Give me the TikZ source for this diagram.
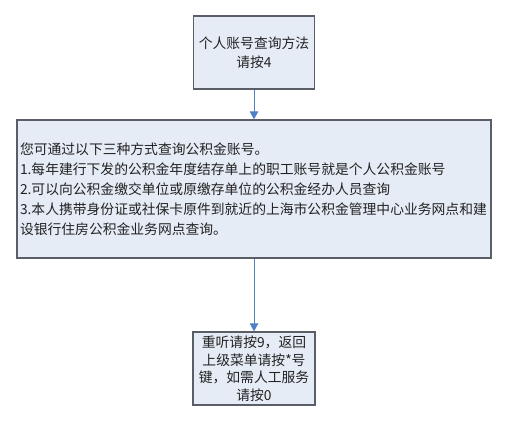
\documentclass[tikz,border=0pt]{standalone}
\usepackage{fontspec}
\newfontfamily\cjk{Noto Sans CJK SC}
\usetikzlibrary{arrows.meta}
\definecolor{boxfill}{HTML}{E6ECF6}
\definecolor{boxline}{HTML}{5A5E66}
\definecolor{arrowblue}{HTML}{4F7FC4}
\definecolor{txt}{HTML}{222222}
\tikzset{
  box/.style={draw=boxline, line width=1.3pt, fill=boxfill, inner sep=0pt, text=txt,
    font=\cjk\fontsize{13.8}{19}\selectfont, anchor=center},
  conn/.style={draw=arrowblue, line width=0.9pt, -{Triangle[length=8pt,width=8.5pt]}}
}
\begin{document}
\begin{tikzpicture}[x=1pt,y=-1pt]
\useasboundingbox (0,0) rectangle (506,423);
\node[box, minimum width=121pt, minimum height=73pt, align=center] (top) at (254,52.5)
  {个人账号查询方法\\请按4};
\node[box, minimum width=474pt, minimum height=138pt, text width=468pt, align=left,
  font=\cjk\fontsize{13.8}{20}\selectfont] (mid) at (254,189)
  {您可通过以下三种方式查询公积金账号。\\
   1.每年建行下发的公积金年度结存单上的职工账号就是个人公积金账号\\
   2.可以向公积金缴交单位或原缴存单位的公积金经办人员查询\\
   3.本人携带身份证或社保卡原件到就近的上海市公积金管理中心业务网点和建\\
   设银行住房公积金业务网点查询。};
\node[box, minimum width=122pt, minimum height=73pt, align=center,
  font=\cjk\fontsize{13.8}{17.5}\selectfont] (bot) at (254,368.5)
  {重听请按9，返回\\上级菜单请按*号\\键，如需人工服务\\请按0};
\draw[conn] (top) -- (mid);
\draw[conn] (mid) -- (bot);
\end{tikzpicture}
\end{document}
